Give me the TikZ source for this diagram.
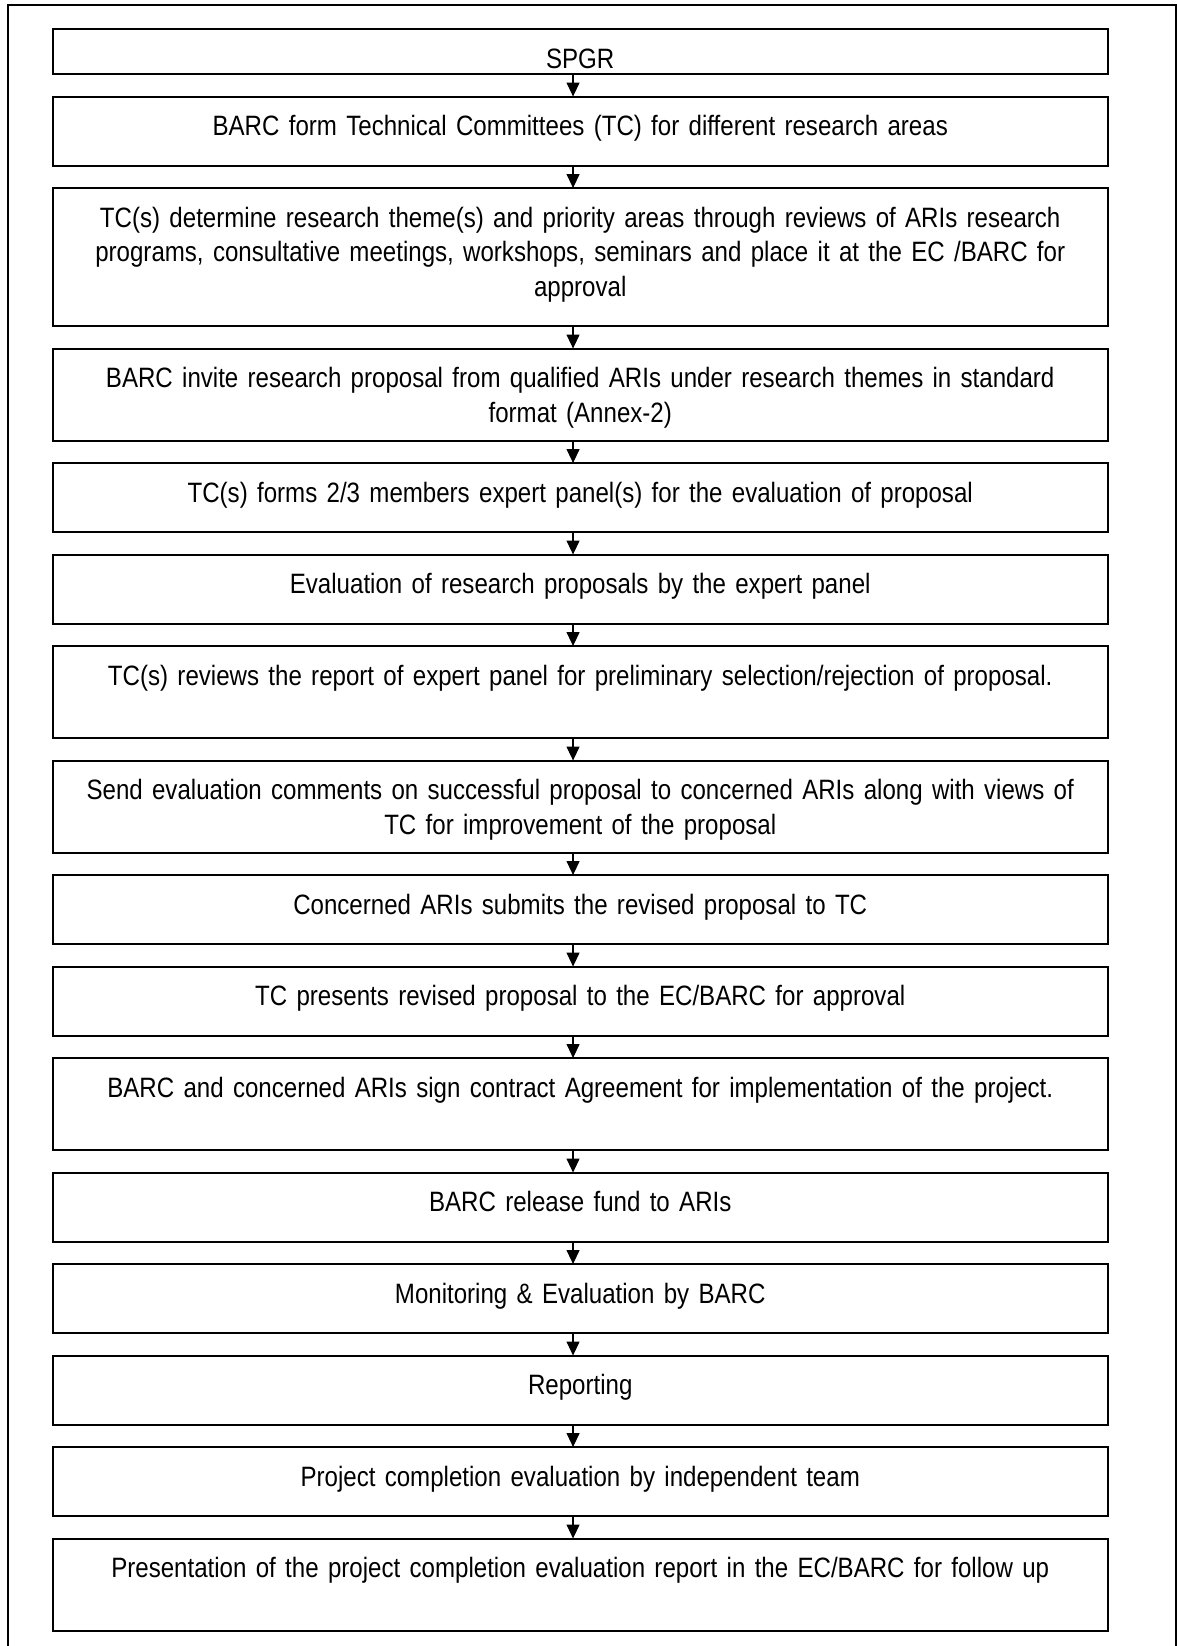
\documentclass[tikz,border=0pt]{standalone}
\usepackage{fontspec}
\setmainfont{Liberation Sans}[FakeStretch=0.86, WordSpace=0.86]
\usetikzlibrary{positioning, arrows.meta}

\begin{document}
\begin{tikzpicture}[x=0.5pt, y=-0.5pt,
    b/.style={draw, line width=1pt, anchor=north, outer sep=0pt, inner ysep=0pt, inner xsep=3.875pt,
      text width=520pt, align=center, text height=19.5pt, font=\fontsize{14}{17.3}\selectfont},
    a/.style={-{Triangle[length=7pt, width=6.5pt]}, line width=0.6pt}]
  \useasboundingbox (0,0) rectangle (1177,1646);
  \draw[line width=1pt] (8,1646) -- (8,5) -- (1176,5) -- (1176,1646);
  \node[b, text depth=3pt] (spgr) at (580.25,29) {SPGR};
  \node[b, text depth=15pt, below=11.25pt of spgr] (tc) {BARC form Technical Committees (TC) for different research areas};
  \node[b, text depth=49.5pt, below=11.25pt of tc] (theme) {TC(s) determine research theme(s) and priority areas through reviews of ARIs research\\programs, consultative meetings, workshops, seminars and place it at the EC /BARC for\\approval};
  \node[b, text depth=26.5pt, below=11.25pt of theme] (invite) {BARC invite research proposal from qualified ARIs under research themes in standard\\format (Annex-2)};
  \node[b, text depth=15pt, below=11.25pt of invite] (panel) {TC(s) forms 2/3 members expert panel(s) for the evaluation of proposal};
  \node[b, text depth=15pt, below=11.25pt of panel] (eval) {Evaluation of research proposals by the expert panel};
  \node[b, text depth=26.5pt, below=11.25pt of eval] (review) {TC(s) reviews the report of expert panel for preliminary selection/rejection of proposal.};
  \node[b, text depth=26.5pt, below=11.25pt of review] (comments) {Send evaluation comments on successful proposal to concerned ARIs along with views of\\TC for improvement of the proposal};
  \node[b, text depth=15pt, below=11.25pt of comments] (revise) {Concerned ARIs submits the revised proposal to TC};
  \node[b, text depth=15pt, below=11.25pt of revise] (present) {TC presents revised proposal to the EC/BARC for approval};
  \node[b, text depth=26.5pt, below=11.25pt of present] (contract) {BARC and concerned ARIs sign contract Agreement for implementation of the project.};
  \node[b, text depth=15pt, below=11.25pt of contract] (fund) {BARC release fund to ARIs};
  \node[b, text depth=15pt, below=11.25pt of fund] (monitor) {Monitoring \& Evaluation by BARC};
  \node[b, text depth=15pt, below=11.25pt of monitor] (report) {Reporting};
  \node[b, text depth=15pt, below=11.25pt of report] (completion) {Project completion evaluation by independent team};
  \node[b, text depth=26.5pt, below=11.25pt of completion] (follow) {Presentation of the project completion evaluation report in the EC/BARC for follow up};
  \foreach \p/\q in {spgr/tc, tc/theme, theme/invite, invite/panel, panel/eval, eval/review, review/comments,
      comments/revise, revise/present, present/contract, contract/fund, fund/monitor, monitor/report,
      report/completion, completion/follow}
    \draw[a] ([xshift=-3.6pt]\p.south) -- ([xshift=-3.6pt]\q.north);
\end{tikzpicture}
\end{document}
